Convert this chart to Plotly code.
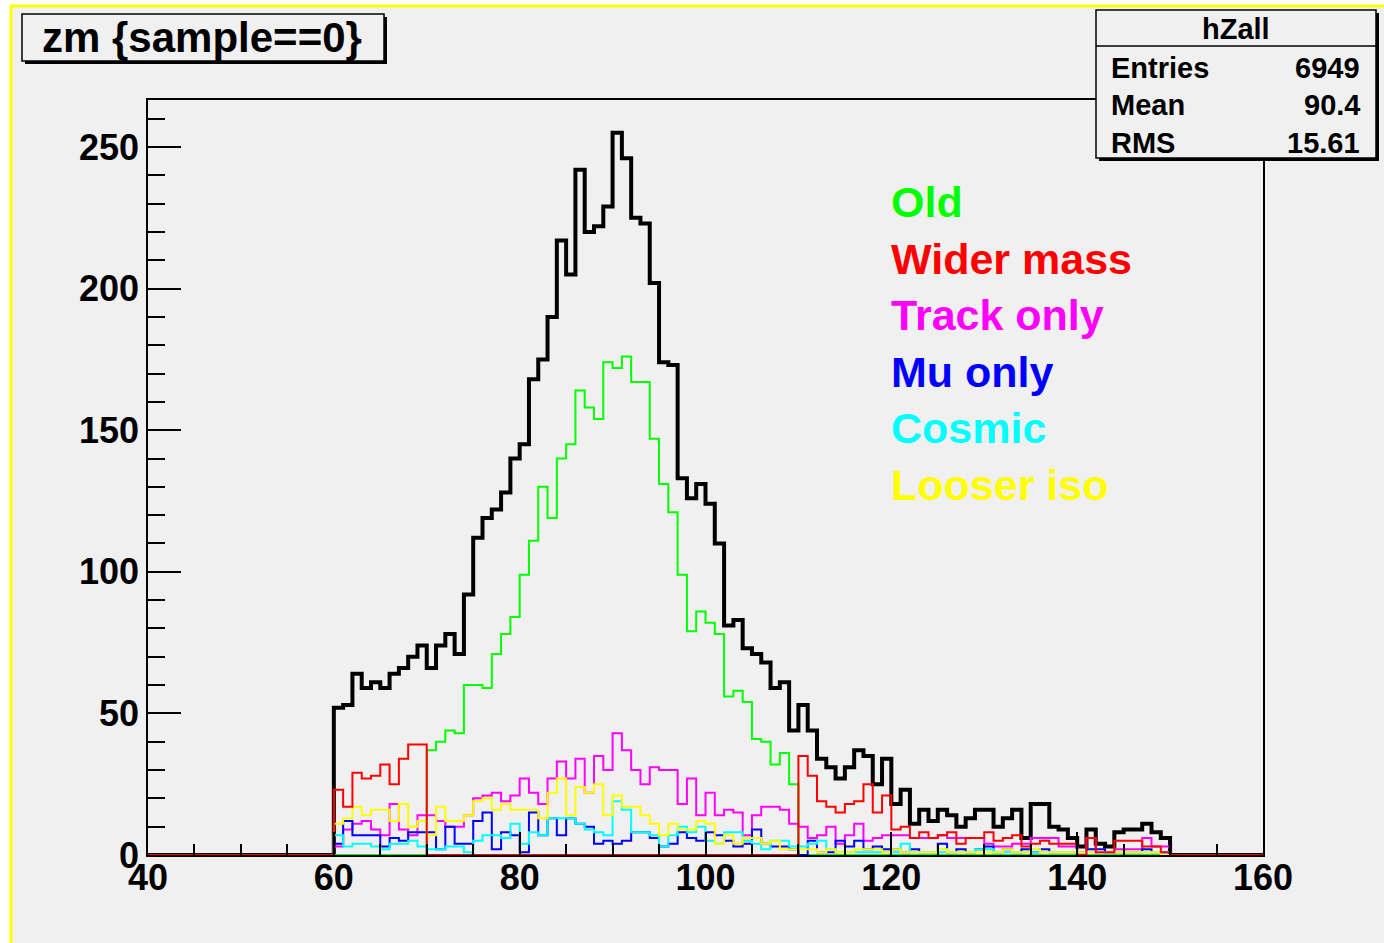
import plotly.graph_objects as go

# ---------------- data (1-unit bins, values for bins starting at 60 .. 149) ----------------
bin_lo, bin_hi, data_start = 40, 160, 60

total_all = [52, 53, 64, 59, 61, 59, 64, 66, 70, 74,
             66, 74, 78, 71, 92, 112, 119, 122, 128, 140,
             145, 168, 175, 190, 217, 205, 242, 220, 222, 229,
             255, 246, 225, 223, 202, 174, 173, 133, 126, 131,
             124, 110, 81, 83, 73, 71, 68, 59, 61, 44,
             53, 44, 34, 31, 27, 31, 37, 35, 25, 34,
             18, 23, 11, 16, 12, 16, 14, 10, 13, 16,
             16, 10, 13, 16, 6, 18, 18, 10, 9, 6,
             3, 9, 4, 3, 8, 9, 9, 11, 8, 6]

old_sel = [0, 0, 0, 0, 0, 0, 0, 0, 0, 0,
           37, 40, 44, 43, 60, 60, 59, 71, 78, 84,
           99, 111, 130, 119, 140, 145, 164, 158, 154, 174,
           172, 176, 167, 167, 147, 131, 121, 99, 79, 86,
           82, 78, 56, 58, 54, 41, 40, 32, 36, 25,
           0, 0, 0, 0, 0, 0, 0, 0, 0, 0,
           0, 0, 0, 0, 0, 0, 0, 0, 0, 0,
           0, 0, 0, 0, 0, 0, 0, 0, 0, 0,
           0, 0, 0, 0, 0, 0, 0, 0, 0, 0]

wider_mass = [23, 17, 29, 27, 28, 32, 25, 34, 39, 39,
              0, 0, 0, 0, 0, 0, 0, 0, 0, 0,
              0, 0, 0, 0, 0, 0, 0, 0, 0, 0,
              0, 0, 0, 0, 0, 0, 0, 0, 0, 0,
              0, 0, 0, 0, 0, 0, 0, 0, 0, 0,
              35, 28, 19, 17, 15, 18, 19, 25, 15, 21,
              9, 10, 6, 8, 6, 7, 8, 4, 6, 6,
              8, 5, 6, 7, 3, 4, 5, 4, 4, 4,
              0, 6, 1, 1, 5, 5, 5, 3, 3, 1]

track_only = [3, 9, 11, 12, 9, 7, 18, 9, 7, 14,
              14, 12, 10, 10, 14, 20, 21, 22, 19, 21,
              27, 22, 18, 27, 33, 27, 34, 22, 35, 30,
              43, 37, 30, 25, 31, 30, 30, 18, 27, 14,
              22, 14, 16, 15, 7, 14, 17, 17, 16, 11,
              10, 6, 7, 10, 4, 7, 11, 5, 6, 7,
              7, 7, 6, 6, 6, 7, 6, 6, 6, 6,
              4, 3, 3, 4, 4, 6, 6, 6, 3, 3,
              0, 6, 1, 1, 2, 2, 2, 6, 3, 3]

mu_only = [4, 12, 7, 7, 7, 3, 6, 5, 8, 8,
           8, 2, 10, 4, 4, 12, 15, 2, 8, 7,
           1, 15, 7, 13, 7, 13, 11, 10, 4, 5,
           4, 5, 8, 8, 6, 3, 4, 8, 6, 5,
           8, 7, 5, 3, 4, 9, 4, 3, 3, 2,
           0, 5, 1, 1, 5, 3, 5, 2, 3, 2,
           2, 1, 2, 1, 1, 4, 1, 2, 1, 2,
           3, 1, 2, 1, 2, 1, 2, 1, 1, 1,
           1, 2, 2, 1, 1, 1, 1, 2, 1, 1]

cosmic = [7, 3, 4, 4, 3, 2, 4, 4, 5, 3,
          2, 2, 3, 3, 1, 5, 7, 7, 6, 11,
          4, 8, 7, 13, 13, 13, 11, 9, 8, 7,
          19, 16, 8, 8, 7, 3, 7, 10, 8, 10,
          5, 4, 8, 8, 5, 4, 2, 5, 5, 3,
          3, 4, 5, 2, 1, 1, 1, 1, 1, 1,
          1, 4, 1, 1, 1, 1, 1, 1, 1, 2,
          2, 1, 1, 1, 1, 1, 1, 1, 1, 1,
          0, 1, 1, 1, 1, 1, 1, 1, 1, 1]

looser_iso = [11, 13, 17, 14, 16, 16, 12, 18, 10, 12,
              7, 17, 12, 12, 14, 19, 20, 16, 18, 16,
              16, 16, 13, 22, 27, 14, 24, 22, 25, 14,
              21, 17, 17, 14, 11, 7, 11, 9, 9, 12,
              11, 4, 7, 4, 6, 6, 4, 5, 2, 2,
              2, 2, 1, 2, 1, 1, 2, 2, 2, 1,
              2, 1, 1, 1, 1, 2, 1, 1, 1, 1,
              1, 1, 2, 1, 1, 2, 1, 1, 1, 1,
              1, 1, 1, 1, 1, 1, 1, 1, 1, 0]

legend_names = ["Old", "Wider mass", "Track only", "Mu only", "Cosmic", "Looser iso"]
legend_colors = ["#00ff00", "#ff0000", "#ff00ff", "#0000ff", "#00ffff", "#ffff00"]

x_ticks = [40, 60, 80, 100, 120, 140, 160]
y_ticks = [0, 50, 100, 150, 200, 250]

title_text = "zm {sample==0}"
stats_name = "hZall"
stats_rows = [("Entries", "6949"), ("Mean", "90.4"), ("RMS", "15.61")]

# ---------------- figure ----------------
W, H = 1384, 943
L, R, T, B = 148, 1263, 100, 855
FONT = "Liberation Sans"


def px(x):
    return (x - L) / (R - L)


def py(y):
    return (B - y) / (B - T)


def full(vals):
    arr = [0] * (data_start - bin_lo) + list(vals)
    arr += [0] * (bin_hi - bin_lo - len(arr))
    return arr


edges = list(range(bin_lo, bin_hi + 1))


def step_trace(vals, color, width):
    y = full(vals)
    return go.Scatter(x=edges, y=y + [y[-1]], mode="lines",
                      line=dict(color=color, width=width, shape="hv"),
                      hoverinfo="skip", showlegend=False)


fig = go.Figure()
fig.add_trace(step_trace(total_all, "#000000", 4))
series = [old_sel, track_only, mu_only, cosmic, looser_iso, wider_mass]
colors = ["#00ff00", "#ff00ff", "#0000ff", "#00ffff", "#ffff00", "#ff0000"]
for s, c in zip(series, colors):
    fig.add_trace(step_trace(s, c, 2))

bg = "#f0f0f0"
shapes = []
# white strip outside the canvas frame + yellow frame lines
shapes.append(dict(type="rect", xref="paper", yref="paper", x0=px(0), x1=px(10), y0=py(H), y1=py(0),
                   fillcolor="white", line=dict(width=0), layer="above"))
shapes.append(dict(type="rect", xref="paper", yref="paper", x0=px(0), x1=px(W), y0=py(5), y1=py(0),
                   fillcolor="white", line=dict(width=0), layer="above"))
shapes.append(dict(type="line", xref="paper", yref="paper", x0=px(10), x1=px(W), y0=py(6), y1=py(6),
                   line=dict(color="#ffff00", width=3), layer="above"))
shapes.append(dict(type="line", xref="paper", yref="paper", x0=px(11), x1=px(11), y0=py(5), y1=py(H),
                   line=dict(color="#ffff00", width=3), layer="above"))


def box(x0, y0, x1, y1):
    # shadow
    shapes.append(dict(type="rect", xref="paper", yref="paper", x0=px(x0 + 3), x1=px(x1 + 3),
                       y0=py(y1 + 3), y1=py(y0 + 3), fillcolor="black", line=dict(width=0), layer="above"))
    shapes.append(dict(type="rect", xref="paper", yref="paper", x0=px(x0), x1=px(x1),
                       y0=py(y1), y1=py(y0), fillcolor=bg, line=dict(color="black", width=1.5), layer="above"))


box(22, 14, 384, 61)
box(1096, 10, 1376, 158)
shapes.append(dict(type="line", xref="paper", yref="paper", x0=px(1096), x1=px(1376), y0=py(46), y1=py(46),
                   line=dict(color="black", width=1.5), layer="above"))

annotations = []


def txt(x, y, s, size, color="black", xanchor="center"):
    annotations.append(dict(x=px(x), y=py(y), xref="paper", yref="paper", text=s, showarrow=False,
                            xanchor=xanchor, yanchor="middle",
                            font=dict(family=FONT, size=size, color=color, weight="bold")))


txt(202, 38, title_text, 42)
txt(1236, 29, stats_name, 29)
for i, (k, v) in enumerate(stats_rows):
    yy = 68 + i * 37.5
    txt(1109, yy, k, 29, xanchor="left")
    txt(1362, yy, v, 29, xanchor="right")

for i, (n, c) in enumerate(zip(legend_names, legend_colors)):
    txt(889, 202 + i * 56.6, n, 43, color=c, xanchor="left")

fig.update_layout(
    width=W, height=H,
    margin=dict(l=L, r=W - R, t=T, b=H - B, pad=0),
    paper_bgcolor=bg, plot_bgcolor=bg,
    shapes=shapes, annotations=annotations,
    showlegend=False,
    xaxis=dict(range=[40, 160], tickvals=x_ticks, ticks="inside", ticklen=23, tickwidth=1.5,
               tickcolor="black", showgrid=False, zeroline=False, showline=True, linecolor="black",
               linewidth=1.5, mirror=True, ticklabelstandoff=-10,
               minor=dict(dtick=5, ticks="inside", ticklen=11, tickcolor="black", tickwidth=1.5, showgrid=False),
               tickfont=dict(family=FONT, size=36, color="black", weight="bold")),
    yaxis=dict(range=[0, 266.6], tickvals=y_ticks, ticks="inside", ticklen=33, tickwidth=1.5,
               tickcolor="black", showgrid=False, zeroline=False, showline=True, linecolor="black",
               linewidth=1.5, mirror=True,
               minor=dict(dtick=10, ticks="inside", ticklen=17, tickcolor="black", tickwidth=1.5, showgrid=False),
               tickfont=dict(family=FONT, size=36, color="black", weight="bold")),
)

fig.write_html("out.html")
